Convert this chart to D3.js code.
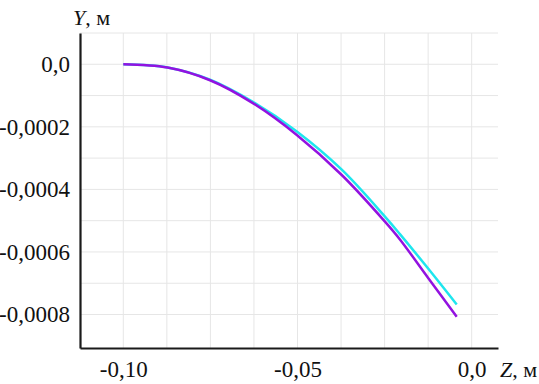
<!DOCTYPE html>
<html>
<head>
<meta charset="utf-8">
<script src="https://cdn.jsdelivr.net/npm/d3@7"></script>
<style>
  body { margin: 0; background: #fff; }
  text { font-family: "Liberation Serif", "Times New Roman", serif; }
</style>
</head>
<body>
<div id="chart"></div>
<script>
// data
let zValues      = [-0.1, -0.0873, -0.0751, -0.0627, -0.0502, -0.0373, -0.0249, -0.0206, -0.0125, -0.0043];
let yPurple      = [0, -0.0000105, -0.000051, -0.000125, -0.000226, -0.000354, -0.000503, -0.000560, -0.000683, -0.000807];
let yCyan        = [0, -0.0000102, -0.0000494, -0.000121, -0.000215, -0.000337, -0.000487, -0.000543, -0.000653, -0.000768];
let xTickValues  = [-0.1, -0.05, 0];
let xTickLabels  = ["-0,10", "-0,05", "0,0"];
let yTickValues  = [0, -0.0002, -0.0004, -0.0006, -0.0008];
let yTickLabels  = ["0,0", "-0,0002", "-0,0004", "-0,0006", "-0,0008"];

let width = 539, height = 384;
let margin = {top: 33, right: 41, bottom: 36, left: 80};

let svg = d3.select("#chart")
  .append("svg")
  .attr("width", width)
  .attr("height", height);

let x = d3.scaleLinear()
  .domain([-0.11243, 0.00755])
  .range([margin.left, width - margin.right]);

let y = d3.scaleLinear()
  .domain([-0.000907, 0.0001])
  .range([height - margin.bottom, margin.top]);

// grid
let xGrid = d3.range(0, 9).map(i => -0.1 + i * 0.0125);
let yGrid = d3.range(0, 10).map(i => 0.0001 - i * 0.0001);

svg.append("g")
  .selectAll("line")
  .data(xGrid)
  .enter()
  .append("line")
    .attr("x1", d => x(d)).attr("x2", d => x(d))
    .attr("y1", y(0.0001)).attr("y2", y(-0.000907))
    .attr("stroke", "#e6e6e6")
    .attr("stroke-width", 1);

svg.append("g")
  .selectAll("line")
  .data(yGrid)
  .enter()
  .append("line")
    .attr("x1", x(-0.11243)).attr("x2", x(0.00755))
    .attr("y1", d => y(d)).attr("y2", d => y(d))
    .attr("stroke", "#e6e6e6")
    .attr("stroke-width", 1);

// curves
let line = d3.line()
  .x((d, i) => x(zValues[i]))
  .y(d => y(d))
  .curve(d3.curveCatmullRom.alpha(0.5));

svg.append("path")
  .datum(yCyan)
  .attr("d", line)
  .attr("fill", "none")
  .attr("stroke", "#1ee6ee")
  .attr("stroke-width", 2.5);

svg.append("path")
  .datum(yPurple)
  .attr("d", line)
  .attr("fill", "none")
  .attr("stroke", "#9312e0")
  .attr("stroke-width", 2.5);

// axes
let xAxis = svg.append("g")
  .attr("transform", "translate(0," + y(-0.000907) + ")")
  .call(d3.axisBottom(x)
    .tickValues(xTickValues)
    .tickFormat((d, i) => xTickLabels[i])
    .tickSize(0)
    .tickPadding(13));

let yAxis = svg.append("g")
  .attr("transform", "translate(" + x(-0.11243) + ",0)")
  .call(d3.axisLeft(y)
    .tickValues(yTickValues)
    .tickFormat((d, i) => yTickLabels[i])
    .tickSize(0)
    .tickPadding(10));

[xAxis, yAxis].forEach(g => {
  g.select(".domain").attr("stroke", "#1a1a1a").attr("stroke-width", 2.2);
  g.selectAll("text")
    .attr("font-family", "Liberation Serif")
    .attr("font-size", 23)
    .attr("fill", "#111");
});

// axis titles
let yTitle = svg.append("text")
  .attr("x", 73).attr("y", 25)
  .attr("font-size", 22).attr("fill", "#111");
yTitle.append("tspan").attr("font-style", "italic").text("Y");
yTitle.append("tspan").text(", м");

let xTitle = svg.append("text")
  .attr("x", 500).attr("y", 377)
  .attr("font-size", 22).attr("fill", "#111");
xTitle.append("tspan").attr("font-style", "italic").text("Z");
xTitle.append("tspan").text(", м");
</script>
</body>
</html>
